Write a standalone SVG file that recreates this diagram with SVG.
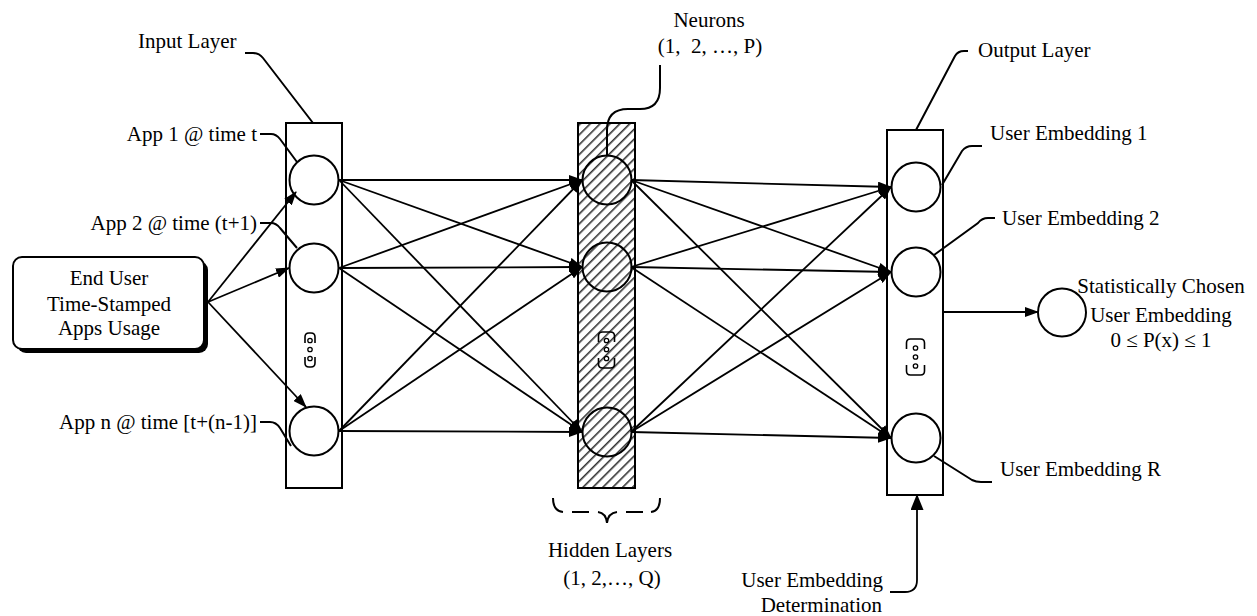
<svg xmlns="http://www.w3.org/2000/svg" width="1257" height="616" viewBox="0 0 1257 616">
<style>
.t{font-family:"Liberation Serif","Times New Roman",serif;font-size:21px;fill:#000}
.m{text-anchor:middle}
.e{text-anchor:end}
.ln{fill:none;stroke:#000;stroke-width:2}
.ar{fill:none;stroke:#000;stroke-width:1.8;marker-end:url(#ah)}
.box{fill:#fff;stroke:#000;stroke-width:2}
.nc{fill:#fff;stroke:#000;stroke-width:2}
.hc{fill:none;stroke:#000;stroke-width:2}
.br{fill:none;stroke:#000;stroke-width:1.6}
.dt{fill:#fff;stroke:#000;stroke-width:1.3}
.ds{fill:none;stroke:#000;stroke-width:2}
</style>
<defs>
<marker id="ah" markerWidth="14" markerHeight="10" refX="13" refY="5" orient="auto" markerUnits="userSpaceOnUse">
<path d="M0,0 L14,5 L0,10 z" fill="#000"/>
</marker>
<marker id="ah2" markerWidth="16" markerHeight="13" refX="15" refY="6.5" orient="auto" markerUnits="userSpaceOnUse">
<path d="M0,0 L16,6.5 L0,13 z" fill="#000"/>
</marker>
<pattern id="hatch" patternUnits="userSpaceOnUse" width="7" height="7" patternTransform="rotate(45)">
<rect width="7" height="7" fill="#fff"/>
<line x1="0" y1="0" x2="0" y2="7" stroke="#333" stroke-width="3.2"/>
</pattern>
</defs>
<rect width="1257" height="616" fill="#fff"/>

<g id="end-user">
<rect x="17" y="261" width="191" height="92" rx="9" fill="#000"/>
<rect x="13" y="257" width="191" height="92" rx="9" class="box"/>
<text class="t m" x="109" y="285">End User</text>
<text class="t m" x="109" y="311">Time-Stamped</text>
<text class="t m" x="109" y="335">Apps Usage</text>
</g>

<g id="input-layer">
<rect x="286" y="123" width="56" height="365" class="box"/>
<circle cx="314" cy="180" r="24.5" class="nc"/>
<circle cx="314" cy="268" r="24.5" class="nc"/>
<circle cx="314" cy="431" r="24.5" class="nc"/>
<path class="br" d="M305,343 V337 Q305,333 309,333 H311 Q315,333 315,337 V343 M305,357 V363 Q305,367 309,367 H311 Q315,367 315,363 V357"/>
<circle cx="310" cy="340.5" r="2.2" class="dt"/>
<circle cx="310" cy="349.5" r="2.2" class="dt"/>
<circle cx="310" cy="358.5" r="2.2" class="dt"/>
<text class="t" x="138" y="48">Input Layer</text>
<path class="ln" d="M245,53 H253 Q259,53 263,58 L313,123"/>
</g>

<g id="input-labels">
<text class="t e" x="257" y="141">App 1 @ time t</text>
<path class="ln" d="M260,134 H271 Q276,134 280,139 L297,162"/>
<text class="t e" x="257" y="230">App 2 @ time (t+1)</text>
<path class="ln" d="M260,223 H271 Q276,223 280,228 L297,248"/>
<text class="t e" x="257" y="429">App n @ time [t+(n-1)]</text>
<path class="ln" d="M260,422 H270 Q276,422 280,428 L291,446"/>
</g>

<g id="hidden-layer">
<rect x="578" y="123" width="57" height="365" fill="url(#hatch)" stroke="#000" stroke-width="2"/>
<circle cx="607" cy="180" r="24.5" class="hc"/>
<circle cx="607" cy="267" r="24.5" class="hc"/>
<circle cx="607" cy="432" r="24.5" class="hc"/>
<path class="br" d="M598.5,342 V336 Q598.5,332 602.5,332 H610.5 Q614.5,332 614.5,336 V342 M598.5,358 V364 Q598.5,368 602.5,368 H610.5 Q614.5,368 614.5,364 V358"/>
<circle cx="606.5" cy="340.5" r="2.2" class="dt"/>
<circle cx="606.5" cy="349.5" r="2.2" class="dt"/>
<circle cx="606.5" cy="358.5" r="2.2" class="dt"/>
<text class="t m" x="709" y="27">Neurons</text>
<text class="t m" x="710" y="53" style="white-space:pre">(1,  2, …, P)</text>
<path class="ln" d="M660,65 V88 Q660,109 640,109 H628 Q607,109 607,130 V155"/>
<path class="ds" d="M553,498 Q553,511 563,512 M572,512 H589 M598,512 Q606,513 607,523 Q608,513 617,512 M626,512 H643 M651,512 Q660,511 660,498"/>
<text class="t m" x="610" y="557">Hidden Layers</text>
<text class="t m" x="612" y="585">(1, 2,…, Q)</text>
</g>

<g id="output-layer">
<rect x="887" y="130" width="56" height="365" class="box"/>
<circle cx="916" cy="187" r="24.5" class="nc"/>
<circle cx="916" cy="272" r="24.5" class="nc"/>
<circle cx="916" cy="438" r="24.5" class="nc"/>
<path class="br" d="M906.5,349 V343 Q906.5,339 910.5,339 H920.5 Q924.5,339 924.5,343 V349 M906.5,365 V371 Q906.5,375 910.5,375 H920.5 Q924.5,375 924.5,371 V365"/>
<circle cx="915.5" cy="348" r="2.2" class="dt"/>
<circle cx="915.5" cy="357" r="2.2" class="dt"/>
<circle cx="915.5" cy="366" r="2.2" class="dt"/>
<text class="t" x="978" y="57">Output Layer</text>
<path class="ln" d="M968,51 H964 Q958,51 955,56 L916,130"/>
</g>

<g id="output-labels">
<text class="t" x="990" y="140">User Embedding 1</text>
<path class="ln" d="M982,146 H972 Q966,146 962,151 L942,185"/>
<text class="t" x="1002" y="225">User Embedding 2</text>
<path class="ln" d="M995,218 H988 Q982,218 978,223 L934,255"/>
<text class="t" x="1000" y="476">User Embedding R</text>
<path class="ln" d="M934,456 L972,480 Q976,482 981,482 H992"/>
</g>

<g id="final-output">
<circle cx="1062" cy="312.5" r="24" class="nc"/>
<text class="t m" x="1161" y="293">Statistically Chosen</text>
<text class="t m" x="1161" y="322">User Embedding</text>
<text class="t m" x="1161" y="347">0 ≤ P(x) ≤ 1</text>
</g>

<g id="determination">
<text class="t e" x="883" y="587">User Embedding</text>
<text class="t e" x="882" y="612">Determination</text>
</g>

<g id="connectors">
<path class="ar" d="M208,302 L296,192"/>
<path class="ar" d="M208,302 L289,268"/>
<path class="ar" d="M208,302 L306,407"/>

<path class="ar" d="M339,180 L582,180"/>
<path class="ar" d="M339,180 L582,267"/>
<path class="ar" d="M339,180 L582,432"/>
<path class="ar" d="M339,268 L582,180"/>
<path class="ar" d="M339,268 L582,267"/>
<path class="ar" d="M339,268 L582,432"/>
<path class="ar" d="M339,431 L582,180"/>
<path class="ar" d="M339,431 L582,267"/>
<path class="ar" d="M339,431 L582,432"/>

<path class="ar" d="M631,180 L891,187"/>
<path class="ar" d="M631,180 L891,272"/>
<path class="ar" d="M631,180 L891,438"/>
<path class="ar" d="M631,267 L891,187"/>
<path class="ar" d="M631,267 L891,272"/>
<path class="ar" d="M631,267 L891,438"/>
<path class="ar" d="M631,432 L891,187"/>
<path class="ar" d="M631,432 L891,272"/>
<path class="ar" d="M631,432 L891,438"/>

<path class="ar" d="M943,312 H1038"/>
<path class="ar" style="marker-end:url(#ah2)" d="M890,592 H905 Q917,592 917,580 V495"/>
</g>
</svg>
